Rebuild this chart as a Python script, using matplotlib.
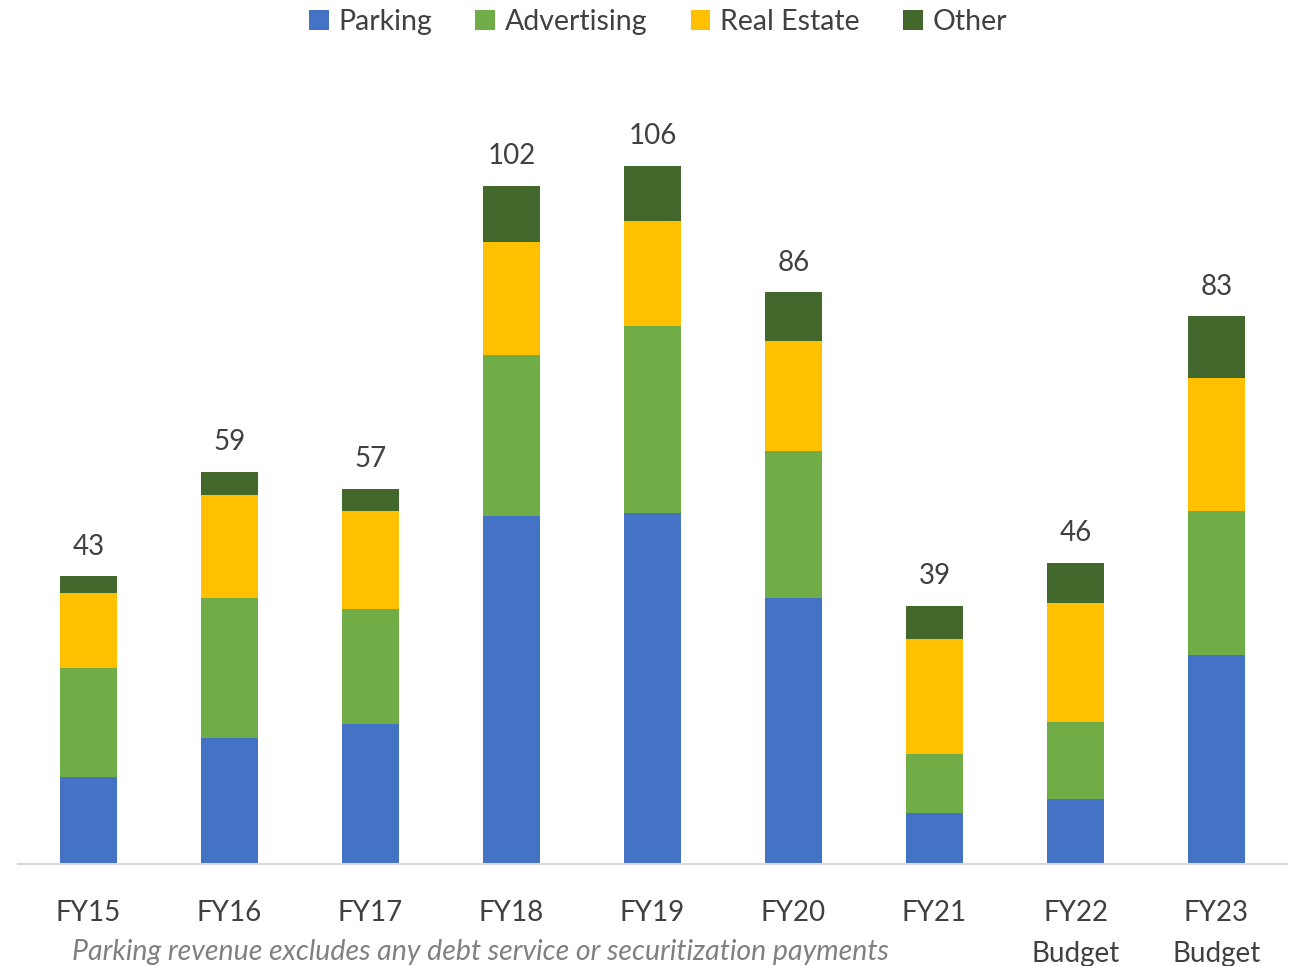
import matplotlib.pyplot as plt
import numpy as np

categories = ["FY15", "FY16", "FY17", "FY18", "FY19", "FY20", "FY21", "FY22\nBudget", "FY23\nBudget"]
parking = [13.2, 19.1, 21.2, 52.7, 53.2, 40.2, 7.7, 9.8, 31.7]
advertising = [16.4, 21.2, 17.4, 24.4, 28.3, 22.4, 9.0, 11.7, 21.8]
real_estate = [11.4, 15.5, 14.9, 17.1, 15.9, 16.6, 17.4, 18.0, 20.1]
other = [2.6, 3.6, 3.3, 8.5, 8.3, 7.4, 5.0, 6.1, 9.3]
totals = [43, 59, 57, 102, 106, 86, 39, 46, 83]

plt.rcParams['font.family'] = ['Lato', 'DejaVu Sans']
text_color = '#404040'

fig = plt.figure(figsize=(12.89, 9.66), dpi=100)
ax = fig.add_axes([18 / 1289, 1 - 864 / 966, 1269 / 1289, 864 / 966 - 45 / 966])

x = np.arange(len(categories))
w = 0.40
series = [("Parking", parking, "#4472C4"),
          ("Advertising", advertising, "#70AD47"),
          ("Real Estate", real_estate, "#FFC000"),
          ("Other", other, "#43682B")]
bottom = np.zeros(len(categories))
for name, vals, color in series:
    ax.bar(x, vals, w, bottom=bottom, color=color, label=name, zorder=2)
    bottom += np.array(vals)

for xi, top, t in zip(x, bottom, totals):
    ax.text(xi, top + 2.5, str(t), ha='center', va='bottom', fontsize=20, color=text_color)

ax.set_xlim(-0.5, len(categories) - 0.5)
ax.set_ylim(0, 124)
ax.set_yticks([])
for s in ['top', 'right', 'left']:
    ax.spines[s].set_visible(False)
ax.spines['bottom'].set_color('#D9D9D9')
ax.spines['bottom'].set_linewidth(1.5)
ax.set_xticks(x)
ax.set_xticklabels(categories, fontsize=20, color=text_color, linespacing=1.7)
ax.tick_params(axis='x', length=0, pad=26)

fig.legend(loc='upper center', bbox_to_anchor=(658 / 1289, 1.017), ncol=4, frameon=False,
           fontsize=20.5, labelcolor=text_color, handlelength=0.7, handleheight=0.7,
           handletextpad=0.35, columnspacing=1.5)

fig.text(480 / 1289, 1 - 952 / 966, "Parking revenue excludes any debt service or securitization payments",
         ha='center', va='center', fontsize=20.5, style='italic', color='#808080')

fig.savefig("out.png", dpi=100)
